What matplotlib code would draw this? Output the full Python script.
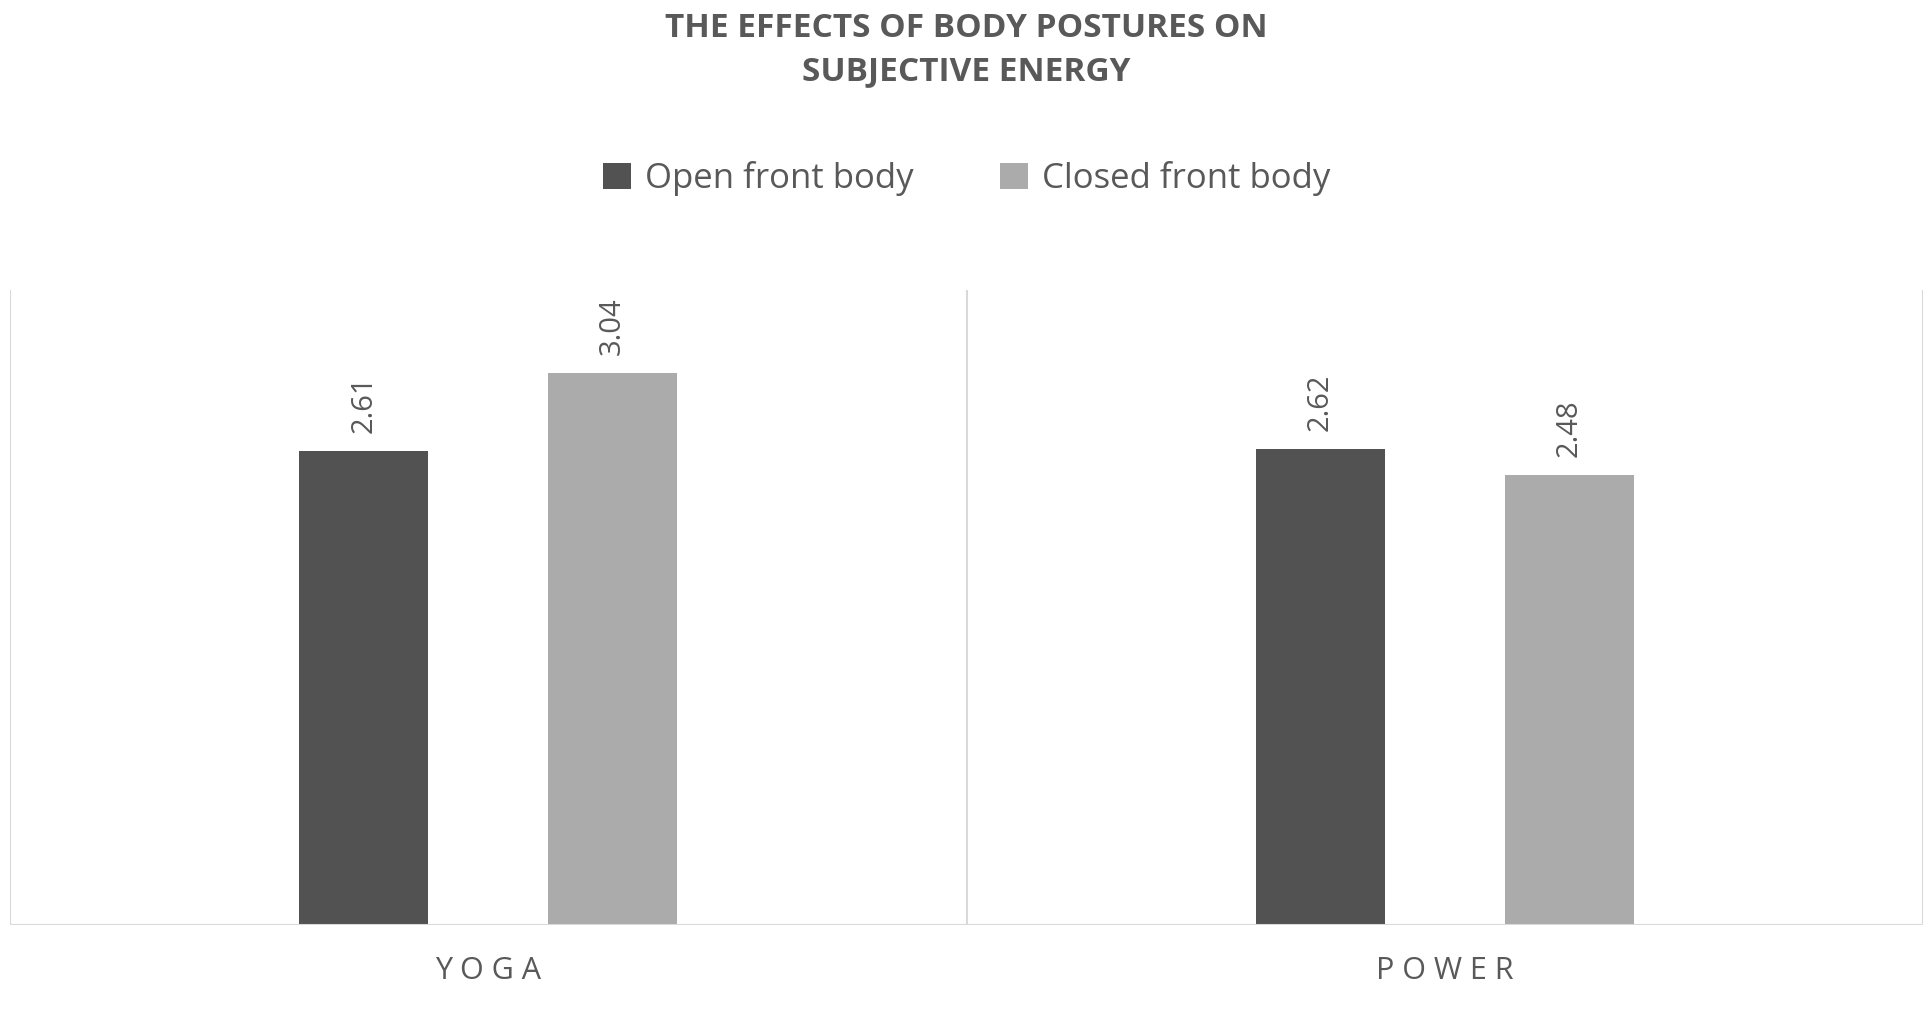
import matplotlib.pyplot as plt
import numpy as np

categories = ["YOGA", "POWER"]
open_front = [2.61, 2.62]
closed_front = [3.04, 2.48]

plt.rcParams['font.family'] = ['Open Sans', 'DejaVu Sans']
fig = plt.figure(figsize=(19.33, 10.09), dpi=100)
ax = fig.add_axes([0.005, 0.083, 0.99, 0.63])

x = np.arange(len(categories))
w = 0.135
off = 0.13
b1 = ax.bar(x - off, open_front, w, color='#525252', label='Open front body')
b2 = ax.bar(x + off, closed_front, w, color='#ababab', label='Closed front body')

for bars in (b1, b2):
    for r in bars:
        ax.text(r.get_x() + r.get_width() / 2, r.get_height() + 0.1, f"{r.get_height():.2f}",
                rotation=90, ha='center', va='bottom', fontsize=21, color='#595959')

ax.set_xlim(-0.5, len(categories) - 0.5)
ax.set_ylim(0, 3.5)
for b in np.arange(-0.5, len(categories), 1):
    ax.axvline(b, color='#d9d9d9', lw=1.5)
ax.axhline(0, color='#d9d9d9', lw=1.5)
for s in ax.spines.values():
    s.set_visible(False)
ax.set_yticks([])
ax.set_xticks(x)
ax.set_xticklabels([" ".join(c) for c in categories], fontsize=22, color='#595959')
ax.tick_params(axis='x', length=0, pad=22)

fig.text(0.5, 0.95, "THE EFFECTS OF BODY POSTURES ON\nSUBJECTIVE ENERGY", ha='center', va='center',
         fontsize=24, fontweight='bold', color='#595959', linespacing=1.4)
fig.legend(loc='center', bbox_to_anchor=(0.5, 0.823), ncol=2, frameon=False, fontsize=25,
           handlelength=0.8, handleheight=0.8, columnspacing=2.5, handletextpad=0.4,
           labelcolor='#595959')

fig.savefig('out.png')
